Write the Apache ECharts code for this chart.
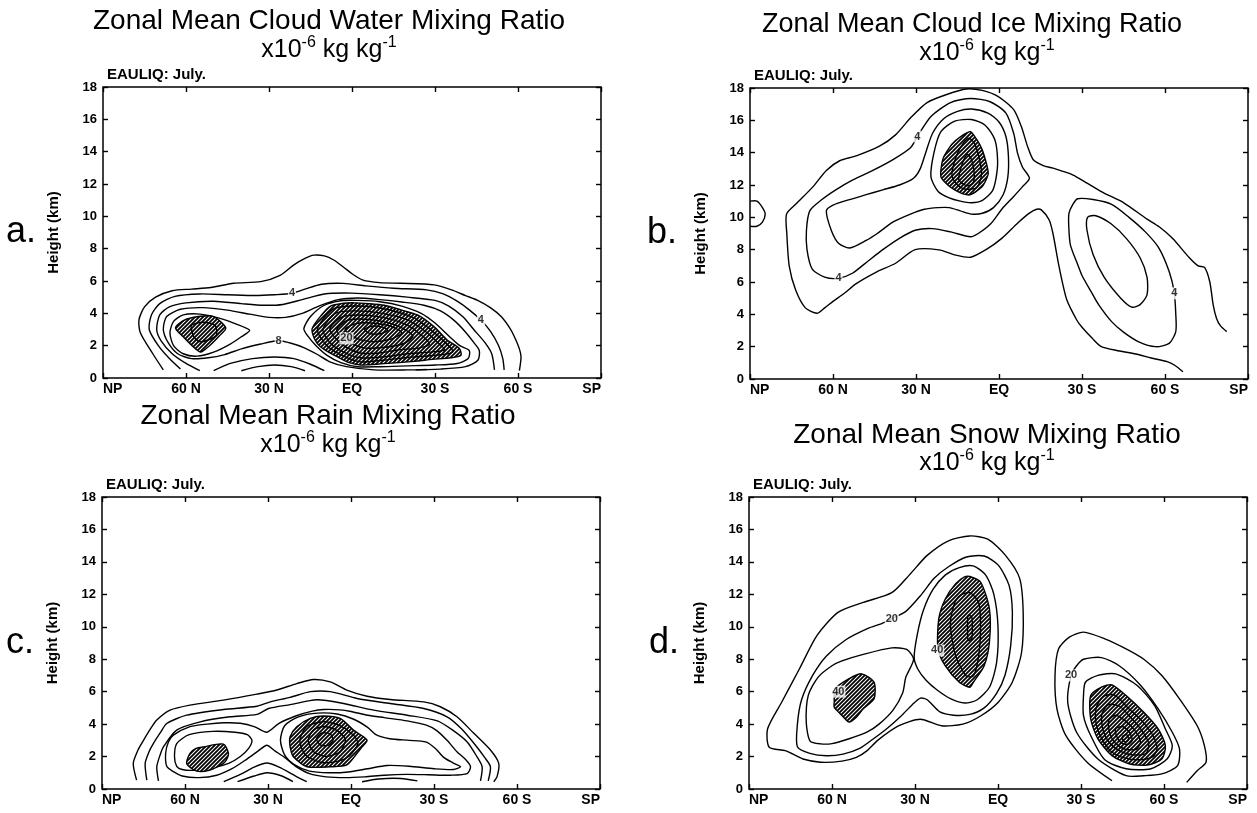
<!DOCTYPE html>
<html>
<head>
<meta charset="utf-8">
<script src="https://cdn.jsdelivr.net/npm/echarts@6/dist/echarts.min.js"></script>
<style>
  html, body { margin: 0; padding: 0; background: #fff; }
  #chart { width: 1257px; height: 813px; }
</style>
</head>
<body>
<div id="chart"></div>
<script>
// ---- axis values --------------------------------------------------------
const latTicks = [90, 60, 30, 0, -30, -60, -90];
const latLabels = ['NP', '60 N', '30 N', 'EQ', '30 S', '60 S', 'SP'];
const heightRange = [0, 18];
const heightStep = 2;

// ---- (a) cloud water: contour lines as [latitude (N +), height km] -----
const water2 = [[68.2,0.5],[72,1.5],[76.5,2.8],[77,3.6],[75,4.4],[71,5.0],[65,5.4],[58,5.5],[51,5.6],[42.8,5.86],[33,5.96],[26,6.35],[21,7.0],[17,7.4],[13.8,7.6],[10,7.55],[6.6,7.3],[3,6.85],[0,6.45],[-4,6.05],[-10,5.9],[-17.6,5.86],[-29.7,5.76],[-36,5.45],[-41,5.1],[-45.4,4.8],[-50,4.35],[-53.9,3.8],[-57,3.1],[-58.7,2.55],[-60.5,1.8],[-61.1,1.3],[-60.5,0.45]];
const water4 = [[62,0.55],[66,1.2],[70,2.0],[73.3,3.0],[72.5,3.9],[69.5,4.6],[64,5.05],[55,5.2],[45,5.15],[35,5.1],[28,5.15],[21.7,5.24],[17,5.5],[11,5.8],[3,5.85],[-5,5.7],[-15,5.55],[-27,5.45],[-33,5.2],[-38,4.75],[-42.5,4.2],[-46.6,3.58],[-50,2.9],[-53,2.0],[-54.5,1.2],[-55,0.5]];
const water4low = [[40,0.45],[34,0.7],[28,0.8],[22,0.7],[17,0.45]];
const water6 = [[55,0.45],[60,0.9],[65,1.5],[69,2.3],[70.6,3.0],[69.5,3.9],[66,4.4],[60,4.65],[50,4.75],[40,4.6],[32,4.5],[25,4.55],[18,4.85],[10,5.2],[0,5.25],[-10,5.15],[-20,5.0],[-30,4.8],[-35,4.45],[-40,3.8],[-44,3.0],[-48,2.2],[-50.5,1.5],[-51.5,0.5]];
const water6low = [[50,0.45],[44,0.9],[36,1.2],[28,1.3],[21,1.2],[15,0.85],[10,0.45]];
const water8 = [[27,2.3],[33,2.1],[40,1.8],[46,1.45],[52,1.25],[58,1.2],[63,1.5],[66.5,2.2],[68.2,3.0],[67,3.8],[62,4.25],[54,4.35],[45,4.2],[37,3.95],[30,3.75],[24,3.75],[18,4.0],[12,4.45],[5,4.85],[-2,4.95],[-10,4.85],[-18,4.7],[-26,4.5],[-32,4.15],[-37,3.55],[-41,2.85],[-44,2.2],[-46,1.7],[-45.5,1.1],[-41,0.7],[-32,0.55],[-20,0.5],[-8,0.5],[2,0.7],[8,1.0],[13,1.5],[17,1.85],[22,2.15]];
const water10n = [[37,2.95],[42,3.35],[48,3.7],[55,3.95],[61,3.9],[64.5,3.5],[65.8,2.8],[64.5,2.0],[61,1.5],[56,1.35],[50,1.6],[44,2.1],[40,2.55]];
const water12n = [[63.8,3.1],[61,3.55],[55.5,3.8],[50,3.8],[45.6,3.1],[48,2.6],[51.5,2.0],[54.7,1.6],[57.5,1.95],[61,2.55]];
const water14n = [[58,3.27],[54,3.45],[49.5,3.27],[49,2.65],[52,2.35],[54.9,2.24],[57,2.5],[58,3.0]];
const water10s = [[17.4,3.06],[15,3.8],[10,4.5],[4,4.78],[-2,4.8],[-10,4.72],[-18,4.45],[-25,4.0],[-30,3.4],[-35,2.6],[-39,2.0],[-42.4,1.7],[-42,1.2],[-38,0.9],[-30,0.8],[-20,0.75],[-10,0.7],[-2,0.7],[4,0.95],[9,1.4],[13,2.0],[16,2.6]];
const water12s = [[14.4,3.06],[11,3.9],[7.8,4.45],[3,4.62],[-0.7,4.65],[-6,4.6],[-11.6,4.5],[-18,4.2],[-23.7,3.9],[-29.7,3.17],[-34.5,2.34],[-38.8,1.82],[-39.4,1.41],[-35.8,1.25],[-29,1.15],[-23.7,1.05],[-17,0.95],[-11.6,0.89],[-6,0.82],[-3.1,0.8],[1,0.95],[4.1,1.2],[8,1.55],[11.4,1.93],[13.5,2.4]];
const water14s = [[12.5,3.0],[7,4.25],[-1,4.45],[-11,4.3],[-22,3.75],[-28,3.05],[-33,2.3],[-36.5,1.65],[-33,1.45],[-22,1.3],[-11,1.1],[-3,1.0],[3,1.35],[9,2.0]];
const water16s = [[10.5,3.0],[6,4.0],[-1,4.15],[-11,4.0],[-20,3.6],[-26,2.95],[-31,2.2],[-33.5,1.75],[-28,1.6],[-20,1.5],[-11,1.3],[-3,1.25],[3,1.6],[8,2.2]];
const water18s = [[8,3.0],[4,3.75],[-2,3.9],[-11,3.75],[-19,3.35],[-24,2.8],[-28,2.1],[-24,1.85],[-17,1.75],[-10,1.55],[-3,1.55],[3,2.0]];
const water20s = [[5.5,3.0],[2,3.55],[-3,3.65],[-11,3.5],[-18,3.1],[-22,2.6],[-19,2.15],[-12,1.9],[-5,1.85],[0,2.1],[3.5,2.5]];
const water22s = [[2.5,3.0],[-1,3.35],[-7,3.4],[-14,3.2],[-18,2.8],[-14,2.4],[-7,2.25],[-1,2.5]];
const water24s = [[-4.5,3.0],[-7,3.2],[-11,3.15],[-13,2.95],[-10.5,2.75],[-6.5,2.75]];
const waterDash = [[-23,0.5],[-27,0.53]];
const waterLabels = [[21.7,5.24,'4'],[-46.6,3.58,'4'],[26.5,2.3,'8'],[2,2.45,'20']];

// ---- (b) cloud ice ------------------------------------------------------
const icePole = [[90,11.0],[87.5,11.0],[85.5,10.6],[84.5,10.2],[85.5,9.7],[87.5,9.45],[90,9.45]];
const ice2 = [[-66.5,0.45],[-63.5,0.85],[-60.8,1.07],[-55,1.3],[-49.4,1.55],[-43,1.75],[-37,2.0],[-33.8,2.5],[-30,3.2],[-28.1,3.65],[-24.5,4.9],[-21.7,6.96],[-19.5,9.0],[-18.1,9.85],[-15.3,10.46],[-13.6,10.5],[-11,10.26],[-6.7,9.64],[-1,8.7],[4.7,8.0],[10.3,7.53],[16,7.68],[21.7,7.99],[30.3,8.0],[37.4,7.16],[44.5,6.6],[51.6,5.9],[55.9,5.3],[60,4.8],[63,4.4],[65.8,4.07],[70,4.4],[73.5,5.5],[75.8,6.96],[76.7,9.0],[76.8,10.2],[73.2,10.85],[67.2,11.9],[62.4,12.9],[57.6,13.5],[51.6,13.8],[43.2,14.4],[37.4,15.1],[31.7,16.2],[26,17.1],[18.9,17.6],[11.8,17.94],[6.1,17.85],[0.4,17.48],[-5.3,16.66],[-8.1,15.6],[-10.3,14.4],[-12.4,13.56],[-16,13.2],[-19.5,13.04],[-26.6,12.63],[-32,12.1],[-38,11.5],[-45.1,10.9],[-52.9,9.96],[-58,9.4],[-62.7,8.7],[-68.8,7.5],[-72,7.0],[-74.3,6.9],[-76.2,6.0],[-77.4,4.6],[-78.6,3.76],[-80,3.3],[-82.3,2.93]];
const ice4n = [[69.4,8.0],[69.6,9.2],[68.4,10.4],[64,11.1],[59,11.7],[53,12.3],[45.6,12.9],[38,13.6],[32,14.3],[29.5,15.0],[24.6,16.24],[17.5,17.1],[10.3,17.35],[3.2,17.15],[-2.5,16.45],[-5.3,15.2],[-6.7,13.97],[-8.5,13.1],[-11,12.42],[-8.5,11.9],[-5.3,11.29],[-1,10.5],[3,9.6],[7.5,9.0],[10.3,8.8],[17.5,9.1],[24,9.3],[30.3,9.2],[36,8.7],[42,8.0],[47.3,7.3],[53,6.54],[58,6.23],[63,6.3],[67.5,6.8]];
const ice6n = [[62.4,10.4],[60,10.75],[54,11.1],[48,11.4],[42,11.7],[36,12.0],[31,12.4],[28.5,13.0],[26.5,14.0],[24,15.2],[20,16.1],[15,16.55],[10,16.7],[4,16.45],[0,15.9],[-2.5,15.0],[-3.4,13.8],[-3.2,12.5],[-1.5,11.4],[2,10.6],[6,10.25],[10,10.2],[14,10.4],[18,10.6],[22,10.6],[27,10.5],[32,10.2],[38.4,9.7],[44,9.0],[48,8.57],[54,8.1],[58,8.4],[60.6,9.19]];
const ice8n = [[24.6,12.5],[23.5,14.0],[21,15.3],[16,15.95],[10,16.05],[5,15.7],[1.5,14.8],[0.5,13.5],[1.1,12.4],[2.5,11.6],[6,11.05],[10,10.9],[14,11.0],[18,11.2],[22,11.6]];
const ice10n = [[21,12.5],[20.3,13.6],[18,14.3],[16,14.7],[12.5,15.15],[10.3,15.3],[8,14.8],[6.1,14.2],[4.5,13.3],[3.9,12.7],[5,12.2],[6.1,11.9],[10.3,11.4],[13,11.45],[16,11.7],[18.5,12.0]];
const ice12n = [[17,12.6],[16,13.5],[14,14.3],[11,14.9],[9,14.6],[7.5,13.9],[6.3,12.7],[8,11.85],[12.5,11.75],[15,12.0]];
const ice14n = [[14.5,12.3],[13.5,13.2],[11.5,13.9],[10,13.6],[9,12.8],[9.3,12.15],[11.5,11.95]];
const ice4s = [[-26.6,10.77],[-28.4,11.15],[-34,11.1],[-40.7,10.8],[-47,10.0],[-52.9,9.1],[-57.8,8.1],[-61.5,6.65],[-63.3,5.4],[-63.9,4.0],[-63.9,2.93],[-61.5,2.2],[-56.6,2.0],[-50.5,2.3],[-45,2.9],[-40.7,3.55],[-36,4.6],[-33.3,5.4],[-30,6.4],[-28.4,7.1],[-25.8,8.3],[-25.2,9.5],[-25.3,10.26]];
const ice6s = [[-32,10.0],[-35,10.1],[-40.5,9.6],[-46,8.7],[-51,7.5],[-53.5,6.3],[-53.5,5.2],[-51,4.6],[-48,4.45],[-44,5.0],[-38,6.3],[-34,7.7],[-31.8,9.2]];
const iceLabels = [[29.5,15.0,'4'],[58,6.23,'4'],[-63.4,5.3,'4']];

// ---- (c) rain -----------------------------------------------------------
const rain1 = [[77.5,0.55],[78.7,1.58],[77,2.4],[75,3.0],[72.5,3.7],[70.2,4.25],[65.4,4.86],[58.2,5.17],[46.1,5.48],[34,5.85],[26.8,6.1],[19.6,6.5],[13.5,6.75],[7.5,6.6],[1.5,6.1],[-5.8,5.72],[-14.2,5.52],[-26.3,5.37],[-32.3,5.07],[-38.3,4.45],[-44.4,3.43],[-50.4,2.4],[-53.4,1.58],[-52.8,0.76],[-51.6,0.45]];
const rain2 = [[73.8,0.55],[74.4,1.58],[73,2.3],[71.4,2.81],[68.8,3.5],[66.6,4.04],[59.4,4.55],[46.1,4.9],[34,5.1],[29.2,5.37],[22,5.65],[14.7,6.0],[7.5,6.0],[-2.2,5.58],[-14.2,5.27],[-26.3,4.96],[-34.7,4.45],[-40,3.7],[-45,2.7],[-48.5,1.9],[-50.4,1.37],[-49.6,0.5]];
const rain2low = [[41,0.45],[35,0.8],[30.4,1.0],[25,0.8],[21,0.45]];
const rain2sub = [[-4,0.45],[-10,0.62],[-18,0.65],[-24,0.5]];
const rain3 = [[69.6,0.5],[70.2,1.37],[69,2.1],[67.8,2.6],[63,3.63],[54.5,4.14],[43.7,4.45],[34,4.6],[29.8,4.96],[22,5.2],[12.3,5.5],[2.7,5.27],[-8.2,4.86],[-20.3,4.55],[-31.2,4.2],[-37,3.6],[-42,2.9],[-45.5,2.0],[-47.4,1.37],[-46.8,0.5]];
const rain3low = [[46,0.45],[40,0.9],[35,1.35],[30.4,1.6],[26,1.35],[20,0.8],[16,0.45]];
const rain4 = [[30.4,3.5],[26,4.05],[20,4.5],[14,4.8],[9.9,4.9],[4,4.88],[0,4.78],[-6,4.55],[-12,4.4],[-20.3,4.2],[-27,3.95],[-31,3.6],[-34.7,3.0],[-38.3,2.3],[-41.5,1.8],[-43.2,1.37],[-42,0.95],[-36,0.85],[-28,0.88],[-20,0.9],[-12,0.85],[-5,0.75],[2,0.7],[9,0.75],[15,0.95],[20,1.4],[24,1.95],[27.5,2.35],[30.4,2.7],[33.5,2.35],[38,1.8],[43,1.25],[48.5,0.85],[55,0.7],[61,0.8],[64.5,1.1],[66.6,1.4],[67,2.2],[66,2.9],[64.2,3.32],[58.2,3.84],[52,4.0],[46.1,4.08],[40,4.05],[35,3.85]];
const rain5n = [[63,1.4],[63.8,2.0],[63,2.8],[58.5,3.35],[50,3.55],[42,3.5],[37.5,3.35],[35.8,3.0],[37,2.5],[40,2.0],[44,1.6],[50,1.3],[57,1.15],[61,1.2]];
const rain6n = [[59.4,1.58],[58.2,2.2],[56,2.5],[53.3,2.6],[46.1,2.77],[44.3,2.2],[45,1.8],[46.1,1.58],[48.5,1.35],[50.9,1.17],[54.5,1.07],[57,1.2]];
const rain5s = [[25.5,3.0],[24,3.9],[19,4.45],[12,4.68],[5,4.62],[-1,4.3],[-6,3.8],[-9,3.35],[-14,3.1],[-21,3.0],[-27,2.9],[-30.5,2.5],[-33.5,1.95],[-37,1.6],[-39.6,1.37],[-37,1.2],[-30,1.25],[-21,1.4],[-13,1.45],[-6,1.25],[1,1.05],[8,1.0],[15,1.1],[20.5,1.5],[24,2.1]];
const rain6s = [[22,3.22],[19.6,3.84],[14.7,4.35],[9.9,4.5],[3.9,4.35],[-0.9,3.63],[-5.8,3.02],[-4,2.6],[-2.2,2.2],[1.5,1.48],[7.5,1.37],[15.9,1.37],[20.8,1.99],[22,2.6]];
const rain7s = [[18.5,3.0],[16,3.85],[10,4.15],[4,3.9],[-1,3.3],[-2.5,2.8],[0.5,2.05],[5,1.7],[11,1.65],[16.5,2.1]];
const rain8s = [[15.5,3.0],[13.5,3.65],[9.5,3.85],[5,3.6],[2,3.05],[4,2.3],[9,2.0],[13.5,2.3]];
const rain9s = [[12.5,3.1],[10.5,3.45],[7.5,3.4],[6.5,3.0],[8,2.7],[11,2.7]];

// ---- (d) snow -----------------------------------------------------------
const snow10n = [[82.7,2.57],[83.3,3.7],[78.2,5.35],[71.8,7.4],[65.4,9.47],[57.7,10.9],[48.7,11.5],[38.4,12.1],[32,13.2],[25.6,14.4],[17.9,15.3],[10.2,15.6],[3.7,15.4],[-2.7,14.4],[-7.8,13.0],[-9.1,10.9],[-8.5,8.4],[-5.2,6.6],[-0.1,5.35],[6.3,4.5],[12.7,4.0],[20.4,3.9],[28.1,4.3],[35.8,3.9],[43.5,3.0],[47.4,2.35],[51.2,1.95],[56.4,1.72],[64.1,1.65],[70.5,1.85],[74.3,2.16],[76.9,2.37]];
const snow20n = [[72.5,2.6],[72.5,4.0],[71,5.5],[67,7.0],[62,8.2],[55,9.2],[47,9.9],[42,10.2],[38.4,10.5],[33.3,10.95],[28.1,11.9],[23,13.0],[17.9,13.7],[11.4,14.3],[5,14.36],[-0.1,13.8],[-4,12.55],[-5.2,10.9],[-4.6,8.85],[-2.5,7.0],[0.5,5.9],[5,5.0],[10.2,4.6],[16,4.55],[21,4.75],[25.6,5.5],[28,5.6],[31,5.2],[35,4.5],[40,3.75],[45,3.1],[50,2.5],[56,2.15],[62,2.05],[68,2.2]];
const snow30a = [[30.5,8.0],[33.3,6.9],[34.5,5.9],[38,4.85],[43,4.0],[47.4,3.5],[53.8,3.1],[60,2.8],[64.1,2.78],[67.9,2.95],[69.3,4.1],[68.6,5.76],[65,6.9],[60,7.6],[56.4,7.9],[48.7,8.3],[38.4,8.7],[33,8.6]];
const snow30b = [[30.3,8.1],[29.2,9.5],[27,11.0],[23.5,12.3],[19,13.2],[14,13.65],[9,13.75],[4.5,13.2],[1.5,12.0],[0,10.0],[0.5,7.8],[3,6.3],[7.5,5.5],[12,5.3],[17,5.55],[22,6.1],[26,6.7],[29,7.4]];
const snow40a = [[59.2,5.35],[58.9,6.17],[53.8,6.8],[49.3,7.1],[44.8,6.58],[44.8,5.56],[48.7,4.94],[51.2,4.42],[53.8,4.12],[56.4,4.53],[59.2,5.04]];
const snow40b = [[10.2,13.1],[6.3,12.76],[3.1,11.1],[3.1,9.05],[5,7.6],[8.9,6.58],[10.2,6.27],[14,6.58],[19.1,7.6],[21.7,8.64],[21.4,10.5],[19.1,11.7],[15.3,12.65],[12.1,13.07]];
const snow50b = [[14,11.9],[10.2,12.1],[7,11.5],[6.3,10.1],[7,8.2],[8.9,6.97],[11.5,6.97],[15.3,8.2],[17.2,10.1],[16,11.3]];
const snow60b = [[10.8,10.7],[9.5,10.6],[9.3,9.9],[9.5,9.26],[10.8,9.16],[11,9.9]];
const snow10s = [[-41.2,0.51],[-32.2,1.65],[-24.5,3.3],[-21.3,4.94],[-20.6,7.0],[-21.9,8.64],[-25.8,9.36],[-30.9,9.67],[-38.6,9.26],[-46.3,8.64],[-52.7,8.0],[-59.2,7.0],[-65.6,5.56],[-72,3.9],[-74.6,2.67],[-75.2,1.65],[-72,1.13],[-68.2,0.41]];
const snow20s = [[-46.3,0.82],[-36.1,1.85],[-28.4,3.5],[-25.2,5.35],[-26.4,7.0],[-28.4,7.6],[-30.9,8.0],[-37.4,8.1],[-43.8,7.6],[-51.5,6.4],[-57.9,4.94],[-63,3.5],[-65.6,2.47],[-64.9,1.44],[-59.2,0.93],[-52.7,0.82]];
const snow30s = [[-30.9,5.76],[-31.6,6.58],[-36.1,7.0],[-42.5,7.1],[-50.2,6.4],[-56.6,5.14],[-60.5,3.7],[-63,2.67],[-61.1,1.85],[-55.3,1.25],[-46.3,1.25],[-38.6,1.8],[-33.5,3.3],[-30.9,4.53]];
const snow40s = [[-33.5,5.76],[-37.4,6.28],[-41.2,6.42],[-46.3,5.76],[-52.7,4.73],[-57.9,3.7],[-60.5,2.67],[-59.2,1.85],[-54,1.48],[-47.6,1.54],[-41.2,2.06],[-36.1,3.09],[-33.5,4.32]];
const snow50s = [[-35.5,5.0],[-38,5.7],[-42,5.8],[-47,5.0],[-52,4.2],[-56,3.3],[-57.5,2.5],[-56,2.0],[-51,1.8],[-46,1.9],[-41,2.3],[-37.5,3.1],[-35.5,4.0]];
const snow60s = [[-37.5,4.6],[-40,5.2],[-44,5.1],[-48,4.4],[-52,3.6],[-54.5,2.8],[-53.5,2.2],[-49,2.1],[-44.5,2.3],[-40.5,2.8],[-38,3.6]];
const snow70s = [[-40,4.2],[-42.5,4.55],[-46,4.2],[-49.5,3.6],[-51.5,2.9],[-50,2.45],[-46,2.45],[-42.5,2.8],[-40.5,3.4]];
const snow80s = [[-42.5,3.7],[-45,3.85],[-47.5,3.5],[-48.5,3.0],[-47,2.75],[-44.5,2.85],[-43,3.2]];
const snow90s = [[-45,3.25],[-46.5,3.35],[-47.2,3.05],[-46.3,2.9],[-45.2,3.0]];
const snowLabels = [[38.4,10.5,'20'],[22,8.54,'40'],[57.7,6.0,'40'],[-26.4,7.0,'20']];

// ---- panel text ---------------------------------------------------------
const titles = ['Zonal Mean Cloud Water Mixing Ratio', 'Zonal Mean Cloud Ice Mixing Ratio',
                'Zonal Mean Rain Mixing Ratio', 'Zonal Mean Snow Mixing Ratio'];
const letters = ['a.', 'b.', 'c.', 'd.'];
const runLabel = 'EAULIQ: July.';
const yName = 'Height (km)';

// ---- shape lists per panel (open line, closed ring, shaded ring) --------
const open = p => ({ pts: p, closed: false, fill: false });
const ring = p => ({ pts: p, closed: true, fill: false });
const shade = p => ({ pts: p, closed: true, fill: true });

const panelShapes = [
  [open(water2), open(water4), open(water4low), open(water6), open(water6low), ring(water8),
   ring(water10n), shade(water12n), ring(water14n),
   ring(water10s), shade(water12s), ring(water14s), ring(water16s), ring(water18s), ring(water20s),
   ring(water22s), ring(water24s), open(waterDash)],
  [open(icePole), open(ice2), ring(ice4n), ring(ice6n), ring(ice8n), shade(ice10n), ring(ice12n), ring(ice14n),
   ring(ice4s), ring(ice6s)],
  [open(rain1), open(rain2), open(rain2low), open(rain2sub), open(rain3), open(rain3low), ring(rain4),
   ring(rain5n), shade(rain6n), ring(rain5s), shade(rain6s), ring(rain7s), ring(rain8s), ring(rain9s)],
  [ring(snow10n), ring(snow20n), ring(snow30a), ring(snow30b), shade(snow40a), shade(snow40b),
   ring(snow50b), ring(snow60b),
   open(snow10s), ring(snow20s), ring(snow30s), shade(snow40s), ring(snow50s), ring(snow60s),
   ring(snow70s), ring(snow80s), ring(snow90s)]
];
const panelLabels = [waterLabels, iceLabels, [], snowLabels];

// ---- layout ----------------------------------------------------------------
const grids = [
  { left: 103, top: 87, width: 498, height: 291 },
  { left: 750, top: 88, width: 498, height: 291 },
  { left: 102, top: 497, width: 498, height: 292 },
  { left: 749, top: 497, width: 498, height: 292 }
];
// [title x, title y, unit x, unit y, letter x, title size]
const textPos = [[329, 21, 329, 50, 21, 28], [972, 25, 987, 53, 662, 27],
                 [328, 416, 328, 445, 20, 28], [987, 435, 987, 463, 664, 28]];
const FONT = '"Liberation Sans", Arial, Helvetica, sans-serif';

// diagonal hatching used for the shaded cores
function makeHatch() {
  const c = document.createElement('canvas');
  c.width = 4; c.height = 4;
  const g = c.getContext('2d');
  g.fillStyle = '#ffffff';
  g.fillRect(0, 0, 4, 4);
  g.strokeStyle = '#000000';
  g.lineWidth = 1.8;
  g.beginPath();
  g.moveTo(-1, 5); g.lineTo(5, -1);
  g.moveTo(-3, 3); g.lineTo(3, -3);
  g.moveTo(1, 7); g.lineTo(7, 1);
  g.stroke();
  return c;
}
const hatch = { image: makeHatch(), repeat: 'repeat' };

const xAxes = [], yAxes = [], series = [], graphics = [];
const latFormatter = v => { const k = latTicks.indexOf(v); return k >= 0 ? latLabels[k] : ''; };
const tickStyle = { inside: true, length: 5, lineStyle: { color: '#000', width: 1.4 } };
const noLine = { show: false, onZero: false };

grids.forEach((g, i) => {
  xAxes.push({
    gridIndex: i, type: 'value', min: -90, max: 90, interval: 30, inverse: true, position: 'bottom',
    axisLine: noLine, splitLine: { show: false }, axisTick: tickStyle,
    axisLabel: { formatter: latFormatter, color: '#000', fontWeight: 'bold', fontSize: 14, margin: 4,
                 fontFamily: FONT, alignMinLabel: 'right', alignMaxLabel: 'left' }
  });
  xAxes.push({
    gridIndex: i, type: 'value', min: -90, max: 90, interval: 30, inverse: true, position: 'top',
    axisLine: noLine, splitLine: { show: false }, axisTick: tickStyle, axisLabel: { show: false }
  });
  yAxes.push({
    gridIndex: i, type: 'value', min: heightRange[0], max: heightRange[1], interval: heightStep, position: 'left',
    axisLine: noLine, splitLine: { show: false }, axisTick: tickStyle,
    axisLabel: { color: '#000', fontWeight: 'bold', fontSize: 13, margin: 6, fontFamily: FONT },
    name: yName, nameLocation: 'middle', nameGap: 42,
    nameTextStyle: { color: '#000', fontWeight: 'bold', fontSize: 15, fontFamily: FONT }
  });
  yAxes.push({
    gridIndex: i, type: 'value', min: heightRange[0], max: heightRange[1], interval: heightStep, position: 'right',
    axisLine: noLine, splitLine: { show: false }, axisTick: tickStyle, axisLabel: { show: false }
  });

  const shapes = panelShapes[i];
  series.push({
    type: 'custom', xAxisIndex: 2 * i, yAxisIndex: 2 * i, clip: true, silent: true,
    data: shapes.map((s, k) => [0, k % 18]),
    renderItem: (params, api) => {
      const s = shapes[params.dataIndex];
      const pts = s.pts.map(p => api.coord([p[0], p[1]]));
      return {
        type: s.closed ? 'polygon' : 'polyline',
        shape: { points: pts, smooth: 0.25 },
        style: { fill: s.fill ? hatch : 'none', stroke: '#000', lineWidth: 1.4 }
      };
    }
  });
  if (panelLabels[i].length) {
    series.push({
      type: 'scatter', xAxisIndex: 2 * i, yAxisIndex: 2 * i, silent: true, z: 5,
      symbolSize: 1, itemStyle: { color: 'rgba(0,0,0,0)' },
      data: panelLabels[i].map(l => ({ value: [l[0], l[1]], name: l[2] })),
      label: { show: true, position: 'inside', formatter: p => p.name, color: '#000',
               fontSize: 11, fontWeight: 'bold', fontFamily: FONT,
               backgroundColor: '#fff', padding: [1, 1, 0, 1] }
    });
  }

  const tp = textPos[i];
  graphics.push({ type: 'text', x: tp[0], y: tp[1],
    style: { text: titles[i], font: tp[5] + 'px ' + FONT, fill: '#000', align: 'center', verticalAlign: 'middle' } });
  graphics.push({ type: 'text', x: tp[2], y: tp[3],
    style: { text: '{b|x10}{s|-6}{b| kg kg}{s|-1}', align: 'center', verticalAlign: 'middle', fill: '#000',
      rich: { b: { fontSize: 25, lineHeight: 30, fontFamily: FONT, fill: '#000' },
              s: { fontSize: 16, lineHeight: 16, verticalAlign: 'top', fontFamily: FONT, fill: '#000' } } } });
  graphics.push({ type: 'text', x: g.left + 4, y: g.top - 12,
    style: { text: runLabel, font: 'bold 15px ' + FONT, fill: '#000', align: 'left', verticalAlign: 'middle' } });
  graphics.push({ type: 'text', x: tp[4], y: g.top + g.height / 2,
    style: { text: letters[i], font: '36px ' + FONT, fill: '#000', align: 'center', verticalAlign: 'middle' } });
});

const chart = echarts.init(document.getElementById('chart'), null, { renderer: 'canvas' });
chart.setOption({
  animation: false,
  backgroundColor: '#fff',
  grid: grids.map(g => Object.assign({ show: true, borderColor: '#000', borderWidth: 1.5, backgroundColor: 'transparent' }, g)),
  xAxis: xAxes,
  yAxis: yAxes,
  series: series,
  graphic: graphics
});
</script>
</body>
</html>
